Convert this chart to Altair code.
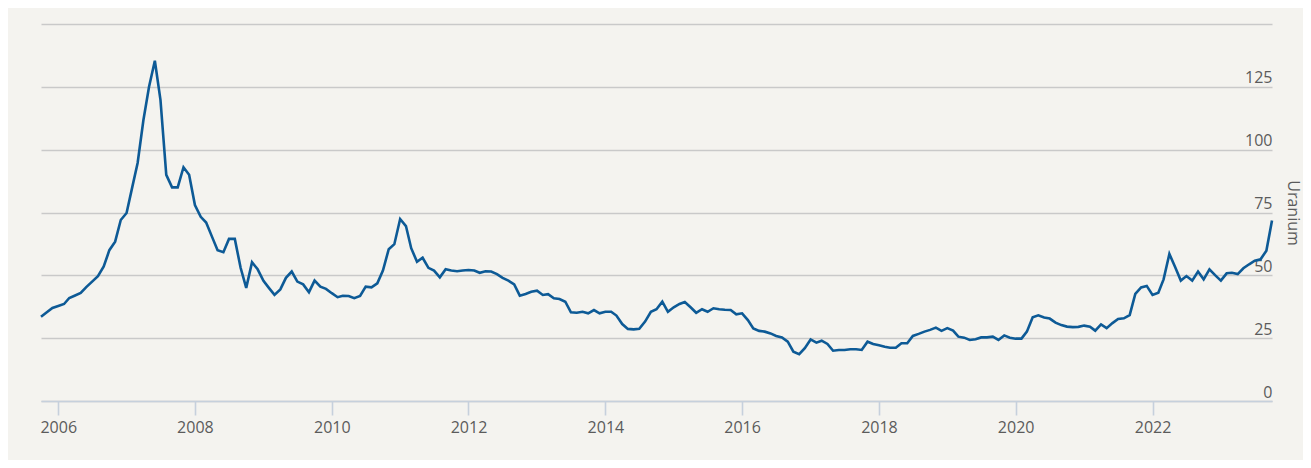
import altair as alt
import pandas as pd

# Monthly uranium price, first month October 2005
start_month = "2005-10-01"
uranium = [
    33.5, 35.3, 37.0, 37.8, 38.6, 41.0, 42.0, 43.0, 45.4, 47.5, 49.7, 53.5,
    60.0, 63.4, 72.0, 74.8, 85.3, 94.7, 111.8, 125.0, 135.4, 119.8, 90.0, 85.0,
    85.0, 93.0, 90.0, 78.0, 73.3, 71.0, 65.4, 60.0, 59.2, 64.5, 64.5, 53.0,
    45.0, 55.2, 52.4, 47.8, 44.8, 42.2, 44.4, 49.0, 51.5, 47.5, 46.4, 43.3,
    47.9, 45.5, 44.6, 42.9, 41.3, 41.9, 41.8, 40.9, 41.8, 45.5, 45.2, 46.8,
    51.9, 60.4, 62.4, 72.4, 69.6, 60.8, 55.4, 57.0, 53.0, 51.9, 49.2, 52.4,
    51.9, 51.6, 51.9, 52.1, 51.9, 51.0, 51.6, 51.5, 50.5, 49.0, 47.9, 46.4,
    41.9, 42.6, 43.5, 43.9, 42.2, 42.5, 40.9, 40.6, 39.5, 35.3, 35.1, 35.5,
    34.9, 36.2, 34.9, 35.5, 35.5, 34.0, 30.6, 28.7, 28.5, 28.7, 31.6, 35.5,
    36.5, 39.5, 35.5, 37.3, 38.6, 39.4, 37.3, 35.1, 36.5, 35.5, 36.9, 36.5,
    36.3, 36.2, 34.5, 34.9, 32.2, 28.9, 27.9, 27.6, 26.9, 25.9, 25.3, 23.6,
    19.6, 18.6, 21.0, 24.5, 23.2, 24.0, 22.7, 20.0, 20.3, 20.3, 20.6, 20.6,
    20.3, 23.6, 22.7, 22.2, 21.6, 21.2, 21.2, 23.0, 23.0, 25.9, 26.7, 27.6,
    28.3, 29.2, 27.9, 29.0, 28.0, 25.6, 25.2, 24.3, 24.6, 25.3, 25.3, 25.6,
    24.3, 26.1, 25.2, 24.8, 24.8, 27.6, 33.3, 34.1, 33.2, 32.8, 31.2, 30.2,
    29.6, 29.4, 29.5, 30.0, 29.6, 28.0, 30.5, 29.0, 31.0, 32.6, 32.9, 34.2,
    42.6, 45.2, 45.8, 42.2, 43.1, 48.4, 58.5, 53.4, 47.9, 49.7, 47.9, 51.5,
    48.4, 52.4, 50.1, 47.9, 50.8, 51.0, 50.5, 52.8, 54.4, 55.8, 56.4, 59.8,
    71.8,
]
year_ticks = [2006, 2008, 2010, 2012, 2014, 2016, 2018, 2020, 2022]
y_ticks = [0, 25, 50, 75, 100, 125, 150]
y_title = "Uranium"

df = pd.DataFrame({
    "date": pd.date_range(start_month, periods=len(uranium), freq="MS"),
    "price": uranium,
})

label_color = "#5b5b5b"
font = "Open Sans"

chart = alt.Chart(df).mark_line(color="#0d5a96", strokeWidth=2.6).encode(
    x=alt.X(
        "date:T",
        scale=alt.Scale(nice=False),
        axis=alt.Axis(
            values=[alt.DateTime(year=y, month=1, date=1) for y in year_ticks],
            format="%Y",
            title=None,
            grid=False,
            domainColor="#c6d0dc",
            domainWidth=1.6,
            tickColor="#c6d0dc",
            tickWidth=1.6,
            tickSize=14,
            labelFont=font,
            labelFontSize=16,
            labelColor=label_color,
            labelPadding=4,
        ),
    ),
    y=alt.Y(
        "price:Q",
        scale=alt.Scale(domain=[0, 150], nice=False),
        axis=alt.Axis(
            orient="right",
            values=y_ticks,
            labelExpr="datum.value >= 150 ? '' : datum.label",
            title=y_title,
            titleFont=font,
            titleFontSize=16,
            titleFontWeight="normal",
            titleColor=label_color,
            titlePadding=12,
            ticks=False,
            tickSize=0,
            domain=False,
            labelAlign="right",
            labelBaseline="alphabetic",
            labelOffset=-4,
            labelPadding=0,
            labelFont=font,
            labelFontSize=16,
            labelColor=label_color,
            grid=True,
            gridColor="#c9c9c9",
            gridWidth=1.5,
        ),
    ),
).properties(
    width=1231,
    height=377,
    background="#f4f3ef",
    padding={"left": 33, "top": 16, "right": 31, "bottom": 59},
    autosize="none",
).configure_view(stroke=None)

chart.save("out.html", embed_options={"renderer": "svg", "actions": False})
